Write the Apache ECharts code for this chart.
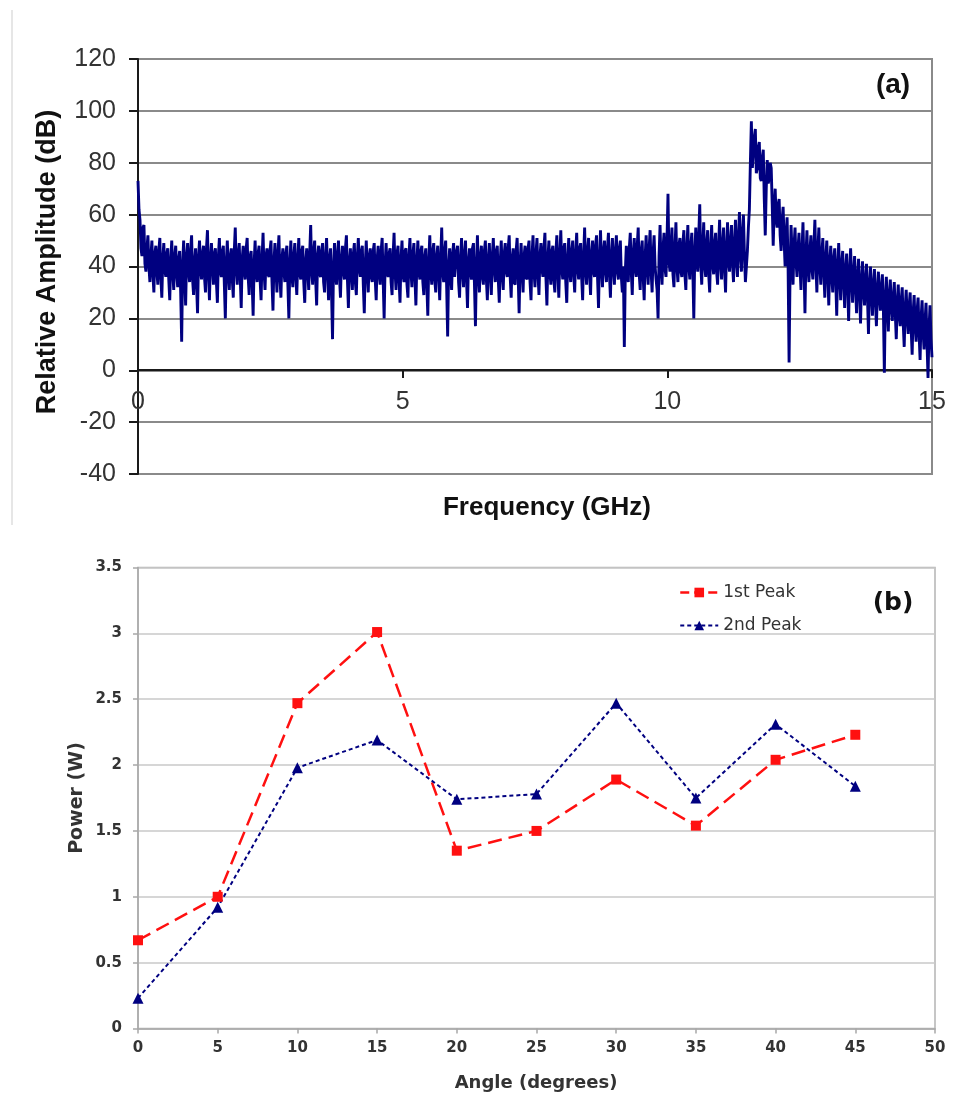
<!DOCTYPE html>
<html>
<head>
<meta charset="utf-8">
<script src="https://cdn.jsdelivr.net/npm/echarts@6/dist/echarts.min.js"></script>
<style>
html,body{margin:0;padding:0;background:#fff;}
#chart{width:953px;height:1099px;}
</style>
</head>
<body>
<div id="chart"></div>
<script>
// ---------- Panel (a): spectrum ----------
const freqStep = 0.01875; // GHz between samples
const amplitude = [
73,62,58,47,44,55,56,41,38,47,52,40,34,44,50,37,30,45,48,38,33,46,51,36,28,43,49,39,36,45,47,35,27,42,50,38,31,44,48,37,
32,43,46,30,11,41,50,36,25,44,49,38,34,46,52,35,29,42,47,33,22,44,50,39,35,45,48,36,30,47,54,37,27,43,49,40,33,45,47,34,
26,44,51,38,36,46,48,33,20,42,50,37,31,44,47,35,28,46,55,39,33,45,49,36,24,43,48,38,35,47,51,36,29,44,46,34,21,41,50,38,
34,45,48,35,27,43,53,38,31,44,47,37,36,46,50,34,23,42,49,39,30,45,52,36,28,43,47,38,34,45,48,33,20,41,50,37,32,44,49,36,
29,43,51,37,35,46,48,34,26,42,47,39,31,45,56,38,33,46,50,35,25,44,48,37,36,46,49,34,30,44,51,38,27,43,47,30,12,40,49,37,
33,45,50,36,28,43,48,38,35,47,52,35,24,42,47,37,31,45,49,34,29,44,51,39,36,46,48,33,22,41,50,38,30,44,47,36,34,46,49,35,
27,43,48,37,33,46,51,35,20,41,49,38,36,45,47,34,29,44,53,38,31,45,48,35,26,43,50,37,34,46,47,33,28,44,51,38,32,45,49,36,
25,42,50,38,35,46,48,34,29,44,47,33,21,42,52,38,33,46,49,35,30,44,48,37,27,43,55,38,34,46,50,32,13,40,47,37,31,45,49,36,
36,46,48,34,28,43,51,38,32,45,50,35,24,42,47,38,35,47,49,33,17,40,52,37,30,44,48,36,33,46,50,35,27,43,49,37,29,44,51,39,
34,46,48,35,26,42,50,37,31,45,49,38,36,47,52,36,28,43,47,34,33,46,51,37,22,41,49,39,30,44,48,36,35,47,50,34,27,44,52,38,
32,45,51,37,29,44,49,39,36,47,53,36,25,43,50,38,33,46,48,35,30,45,52,38,28,44,54,39,35,47,49,34,26,43,51,38,34,46,50,37,
30,45,53,39,35,47,49,36,27,44,55,39,33,46,51,37,29,45,50,38,36,48,52,36,24,43,54,40,32,46,50,38,34,47,53,37,28,44,51,39,
33,46,52,38,35,47,50,36,30,40,9,38,48,37,34,47,53,38,29,45,51,39,36,48,55,37,31,46,50,36,27,44,52,39,33,47,54,38,30,45,
52,40,35,31,20,44,56,40,33,47,53,39,36,50,68,42,38,48,55,37,32,47,57,40,34,48,51,38,36,49,54,37,31,47,56,40,35,48,53,39,
20,45,55,42,38,52,64,41,33,48,57,40,36,49,54,37,30,47,56,41,37,49,53,38,33,48,58,41,35,49,55,39,30,47,57,42,38,50,56,41,
34,49,58,42,36,52,61,44,38,53,60,45,34,40,46,55,62,80,96,78,84,90,93,76,78,86,88,74,73,82,85,66,52,70,81,72,74,80,78,64,
48,62,70,58,55,64,66,52,46,58,63,50,40,52,59,40,3,38,56,45,33,48,55,42,36,47,53,40,31,46,57,41,22,44,54,40,34,46,52,39,
35,48,58,41,30,46,55,40,33,45,51,38,28,43,50,37,25,42,48,36,30,43,47,35,21,40,49,36,27,41,46,34,24,39,45,33,19,38,47,35,
26,37,44,32,22,36,43,30,18,34,42,31,25,35,41,28,14,33,40,29,21,33,39,27,17,31,38,28,23,32,37,24,-1,27,36,25,15,29,35,24,
19,28,34,22,12,26,33,21,17,27,32,18,9,24,31,20,14,25,30,16,6,22,29,17,11,23,28,14,4,20,27,15,8,19,26,10,-3,16,25,12,
5
];
const freqTicks = [0, 5, 10, 15];
const ampTicks = [-40, -20, 0, 20, 40, 60, 80, 100, 120];

// ---------- Panel (b): peak power vs angle ----------
const angles = [0, 5, 10, 15, 20, 25, 30, 35, 40, 45];
const firstPeak = [0.67, 1.00, 2.47, 3.01, 1.35, 1.50, 1.89, 1.54, 2.04, 2.23];
const secondPeak = [0.23, 0.92, 1.98, 2.19, 1.74, 1.78, 2.47, 1.75, 2.31, 1.84];
const seriesNames = ['1st Peak', '2nd Peak'];

const spectrum = amplitude.map((v, i) => [i * freqStep, v]);
const s1 = angles.map((a, i) => [a, firstPeak[i]]);
const s2 = angles.map((a, i) => [a, secondPeak[i]]);

const fa = 'Liberation Sans, Arial, sans-serif';
const fb = 'DejaVu Sans, sans-serif';

const chart = echarts.init(document.getElementById('chart'), null, {renderer: 'canvas'});
chart.setOption({
  animation: false,
  backgroundColor: '#ffffff',
  grid: [
    {left: 138, right: 21, top: 59, height: 415, show: true, borderColor: '#8a8a8a', borderWidth: 2, backgroundColor: 'transparent'},
    {left: 138, right: 18, top: 567.5, height: 461, show: true, borderColor: '#b4b4b4', borderWidth: 1.5, backgroundColor: 'transparent'}
  ],
  xAxis: [
    {
      gridIndex: 0, type: 'value', min: freqTicks[0], max: freqTicks[freqTicks.length - 1], interval: 5,
      offset: -104,
      axisLine: {show: true, onZero: false, lineStyle: {color: '#1a1a1a', width: 2}},
      axisTick: {show: true, length: 8, lineStyle: {color: '#1a1a1a', width: 2}},
      axisLabel: {fontFamily: fa, fontSize: 25, color: '#333', margin: 20},
      splitLine: {show: false}
    },
    {
      gridIndex: 1, type: 'value', min: 0, max: 50, interval: 5,
      axisLine: {show: true, onZero: false, lineStyle: {color: '#a8a8a8', width: 1.5}},
      axisTick: {show: true, length: 5, lineStyle: {color: '#a8a8a8', width: 1.5}},
      axisLabel: {fontFamily: fb, fontSize: 15, fontWeight: 'bold', color: '#333', margin: 12},
      splitLine: {show: false}
    }
  ],
  yAxis: [
    {
      gridIndex: 0, type: 'value', min: ampTicks[0], max: ampTicks[ampTicks.length - 1], interval: 20,
      axisLine: {show: true, onZero: false, lineStyle: {color: '#1a1a1a', width: 2}},
      axisTick: {show: true, length: 9, lineStyle: {color: '#1a1a1a', width: 2}},
      axisLabel: {fontFamily: fa, fontSize: 25, color: '#333', margin: 22},
      splitLine: {show: true, lineStyle: {color: '#8a8a8a', width: 2}}
    },
    {
      gridIndex: 1, type: 'value', min: 0, max: 3.5, interval: 0.5,
      axisLine: {show: true, onZero: false, lineStyle: {color: '#a8a8a8', width: 1.5}},
      axisTick: {show: true, length: 5, lineStyle: {color: '#a8a8a8', width: 1.5}},
      axisLabel: {fontFamily: fb, fontSize: 15, fontWeight: 'bold', color: '#333', margin: 16},
      splitLine: {show: true, lineStyle: {color: '#c8c8c8', width: 1.5}}
    }
  ],
  legend: {
    orient: 'vertical', left: 674, top: 579, itemWidth: 38, itemHeight: 12, itemGap: 16,
    data: [
      {name: seriesNames[0], lineStyle: {type: [9, 5], width: 2.5}},
      {name: seriesNames[1], lineStyle: {type: [4, 3], width: 2}}
    ],
    textStyle: {fontFamily: fb, fontSize: 17, color: '#333'}
  },
  series: [
    {
      type: 'line', xAxisIndex: 0, yAxisIndex: 0, data: spectrum, showSymbol: false, symbol: 'none',
      sampling: null, progressive: 0, lineStyle: {color: '#000080', width: 2.9, join: 'bevel', cap: 'butt'}, itemStyle: {color: '#000080'}, z: 3
    },
    {
      name: seriesNames[0], type: 'line', xAxisIndex: 1, yAxisIndex: 1, data: s1,
      symbol: 'rect', symbolSize: 10,
      lineStyle: {color: '#ff1010', width: 2.5, type: [14, 7]}, itemStyle: {color: '#ff1010'}
    },
    {
      name: seriesNames[1], type: 'line', xAxisIndex: 1, yAxisIndex: 1, data: s2,
      symbol: 'triangle', symbolSize: 11,
      lineStyle: {color: '#000080', width: 2, type: [4, 3]}, itemStyle: {color: '#000080'}
    }
  ],
  graphic: [
    {type: 'line', shape: {x1: 12, y1: 10, x2: 12, y2: 525}, style: {stroke: '#dedede', lineWidth: 1.5}},
    {type: 'text', x: 893, y: 85, style: {text: '(a)', font: 'bold 28px ' + fa, fill: '#111', align: 'center', verticalAlign: 'middle'}},
    {type: 'text', x: 48, y: 262, rotation: Math.PI / 2, style: {text: 'Relative Amplitude (dB)', font: 'bold 27px ' + fa, fill: '#111', align: 'center', verticalAlign: 'middle'}},
    {type: 'text', x: 547, y: 508, style: {text: 'Frequency (GHz)', font: 'bold 26px ' + fa, fill: '#111', align: 'center', verticalAlign: 'middle'}},
    {type: 'text', x: 893, y: 603, style: {text: '(b)', font: 'bold 25px ' + fb, fill: '#111', align: 'center', verticalAlign: 'middle'}},
    {type: 'text', x: 77, y: 798, rotation: Math.PI / 2, style: {text: 'Power (W)', font: 'bold 19px ' + fb, fill: '#333', align: 'center', verticalAlign: 'middle'}},
    {type: 'text', x: 536, y: 1083, style: {text: 'Angle (degrees)', font: 'bold 18px ' + fb, fill: '#333', align: 'center', verticalAlign: 'middle'}}
  ]
});
</script>
</body>
</html>
